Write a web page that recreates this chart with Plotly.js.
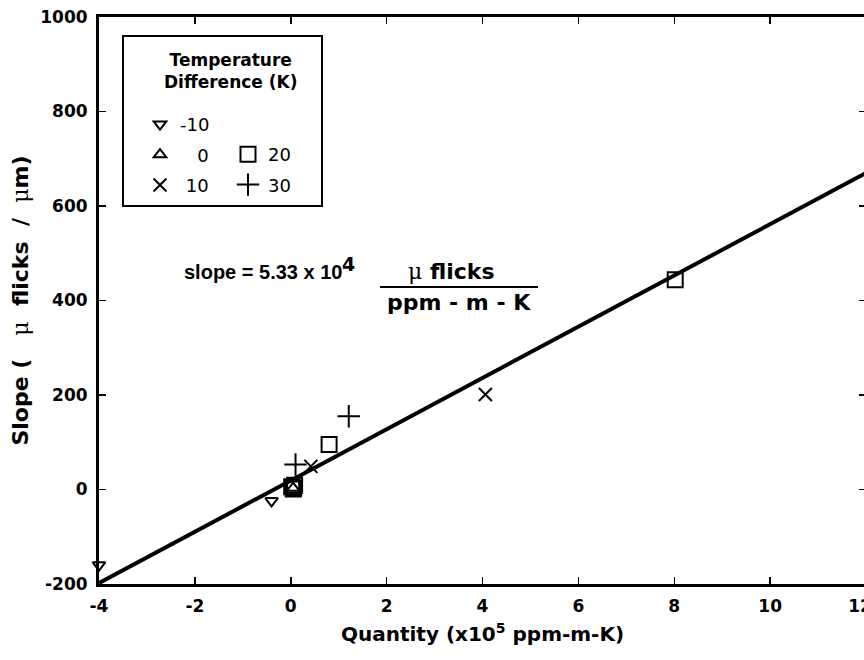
<!DOCTYPE html>
<html><head><meta charset="utf-8">
<script src="https://cdn.plot.ly/plotly-3.0.1.min.js"></script>
<style>html,body{margin:0;padding:0;overflow:hidden;background:#fff}#chart{width:868px;height:660px}</style>
</head><body><div id="chart"></div>
<script>
// ---- data ----
const triDownX = [-4.0, -0.40];
const triDownY = [-160, -24];
const triUpX = [0.05];
const triUpY = [3];
const crossX = [0.42, 4.06];
const crossY = [49, 201];
const squareX = [0.02, 0.05, 0.08, 0.06, 0.80, 8.02];
const squareY = [6, 1, 9, 3, 95, 444];
const plusX = [0.10, 1.21];
const plusY = [53, 155];
const fitX = [-4, 12];
const fitY = [-198, 670];
const legendNames = ['-10', '\u00a0\u00a0\u00a00', '\u00a010', '20', '30'];
const xTicks = [-4, -2, 0, 2, 4, 6, 8, 10, 12];
const xTickText = ['-4', '-2', '0', '2', '4', '6', '8', '10', '12\u00a0\u00a0'];
const yTicks = [-200, 0, 200, 400, 600, 800, 1000];
const yTickText = ['-200', '0', '200', '400', '600', '800', '1000'];

const bold = s => ({family: 'DejaVu Sans', size: s, color: '#000', weight: 700});
const mk = (symbol, size, lw) => ({symbol: symbol, size: size, color: '#000', line: {color: '#000', width: lw}});
const MU = "<span style='font-family:DejaVu Serif;font-weight:normal'>\u03bc</span>";
const NB = '\u00a0';

const traces = [
  {x: fitX, y: fitY, mode: 'lines', line: {color: '#000', width: 4}, showlegend: false, hoverinfo: 'skip'},
  {x: triDownX, y: triDownY, mode: 'markers', name: legendNames[0], marker: mk('triangle-down-open', 11, 2), legend: 'legend', legendgroup: 'a', cliponaxis: false},
  {x: triUpX, y: triUpY, mode: 'markers', name: legendNames[1], marker: mk('triangle-up-open', 11, 2), legend: 'legend', legendgroup: 'b', cliponaxis: false},
  {x: crossX, y: crossY, mode: 'markers', name: legendNames[2], marker: mk('x-thin-open', 13, 2), legend: 'legend', legendgroup: 'c', cliponaxis: false},
  {x: squareX, y: squareY, mode: 'markers', name: legendNames[3], marker: mk('square-open', 15, 2), legend: 'legend2', legendgroup: 'd', cliponaxis: false},
  {x: plusX, y: plusY, mode: 'markers', name: legendNames[4], marker: mk('cross-thin-open', 16, 2), legend: 'legend2', legendgroup: 'e', cliponaxis: false}
];

const W = 868, H = 660, L = 99, R = 2, T = 17, B = 76;
const pw = W - L - R, ph = H - T - B;
const px = v => (v - L) / pw;
const py = v => 1 - (v - T) / ph;

const legFont = {family: 'DejaVu Sans', size: 18, color: '#000'};
const legBase = {font: legFont, bgcolor: 'rgba(0,0,0,0)', borderwidth: 0, xanchor: 'left', yanchor: 'top',
  traceorder: 'grouped', tracegroupgap: 4, itemclick: false};

const layout = {
  width: W, height: H,
  margin: {l: L, r: R, t: T, b: B},
  paper_bgcolor: '#fff', plot_bgcolor: '#fff',
  xaxis: {range: [-4, 12], tickvals: xTicks, ticktext: xTickText, ticks: 'inside', ticklen: 7, tickwidth: 1.5, tickcolor: '#000',
    showline: true, linewidth: 3, linecolor: '#000', mirror: 'allticks', showgrid: false, zeroline: false,
    tickfont: bold(17), ticklabelstandoff: 5, ticklabeloverflow: 'allow',
    title: {text: 'Quantity (x10<sup>5</sup> ppm-m-K)', font: bold(20), standoff: 12}},
  yaxis: {range: [-200, 1000], tickvals: yTicks, ticktext: yTickText, ticks: 'inside', ticklen: 7, tickwidth: 1.5, tickcolor: '#000',
    showline: true, linewidth: 3, linecolor: '#000', mirror: 'allticks', showgrid: false, zeroline: false,
    tickfont: bold(17), ticklabelstandoff: 5, ticklabeloverflow: 'allow',
    title: {text: 'Slope (' + NB + NB + NB + MU + NB + ' flicks' + NB + NB + '/' + NB + NB + MU + 'm)', font: bold(22), standoff: 6}},
  legend: Object.assign({x: px(140), y: py(106)}, legBase),
  legend2: Object.assign({x: px(228), y: py(136)}, legBase),
  shapes: [
    {type: 'rect', xref: 'paper', yref: 'paper', x0: px(123), x1: px(322), y0: py(206), y1: py(36), line: {color: '#000', width: 2}},
    {type: 'line', xref: 'paper', yref: 'paper', x0: px(380), x1: px(538), y0: py(287), y1: py(287), line: {color: '#000', width: 2}}
  ],
  annotations: [
    {xref: 'paper', yref: 'paper', x: px(231), y: py(71), text: 'Temperature<br>Difference (K)', showarrow: false, font: bold(17), xanchor: 'center', yanchor: 'middle'},
    {xref: 'paper', yref: 'paper', x: px(344), y: py(272), text: 'slope = 5.33 x 10', showarrow: false,
      font: {family: 'Liberation Sans', size: 20, color: '#000', weight: 700}, xanchor: 'right', yanchor: 'middle'},
    {xref: 'paper', yref: 'paper', x: px(340), y: py(264), text: '4', showarrow: false, font: bold(19), xanchor: 'left', yanchor: 'middle'},
    {xref: 'paper', yref: 'paper', x: px(451), y: py(271), text: MU + ' flicks', showarrow: false, font: bold(22), xanchor: 'center', yanchor: 'middle'},
    {xref: 'paper', yref: 'paper', x: px(459), y: py(302), text: 'ppm - m - K', showarrow: false, font: bold(22), xanchor: 'center', yanchor: 'middle'}
  ]
};

Plotly.newPlot('chart', traces, layout, {displayModeBar: false, staticPlot: true});
</script>
</body></html>
